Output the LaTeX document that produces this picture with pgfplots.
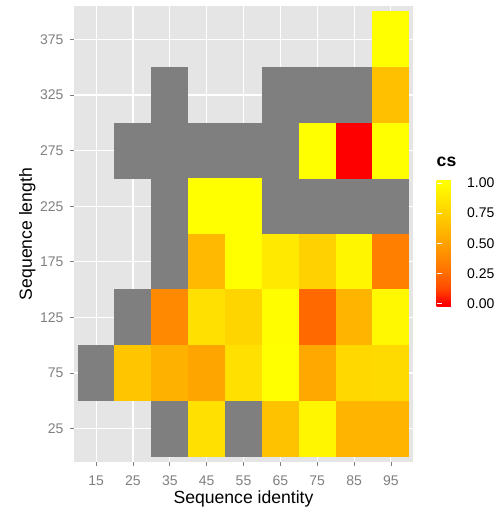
\documentclass[border=0pt]{standalone}
\usepackage{pgfplots}
\pgfplotsset{compat=1.18}
\usepackage{pgfplotstable}
\usepackage{fontspec}
\setmainfont{Liberation Sans}

\definecolor{panelgrey}{HTML}{E5E5E5}
\definecolor{nagrey}{HTML}{7F7F7F}
\definecolor{ticktext}{HTML}{7F7F7F}

% one tile: 10 units wide, 50 units high at x=3.685pt, y=1.112pt
\pgfdeclareplotmark{tile}{%
  \pgfpathrectangle{\pgfqpoint{-18.55pt}{-27.95pt}}{\pgfqpoint{37.1pt}{55.9pt}}%
  \pgfusepathqfill}

% cells with a value
\pgfplotstableread{
x  y   cs
95 375 1.00
95 325 0.66
75 275 1.00
85 275 0.00
95 275 1.00
45 225 1.00
55 225 1.00
45 175 0.62
55 175 1.00
65 175 0.88
75 175 0.75
85 175 0.95
95 175 0.34
35 125 0.38
45 125 0.83
55 125 0.77
65 125 0.99
75 125 0.24
85 125 0.60
95 125 0.96
25 75  0.69
35 75  0.58
45 75  0.52
55 75  0.83
65 75  1.00
75 75  0.54
85 75  0.79
95 75  0.80
45 25  0.83
65 25  0.67
75 25  0.95
85 25  0.60
95 25  0.60
}\cstable

% cells where cs is missing
\pgfplotstableread{
x  y
35 325
65 325
75 325
85 325
25 275
35 275
45 275
55 275
65 275
35 225
65 225
75 225
85 225
95 225
35 175
25 125
15 75
35 25
55 25
}\natable

\begin{document}
\begin{tikzpicture}
\useasboundingbox (-74pt,-48pt) rectangle (425pt,462pt);
\begin{axis}[
  at={(0pt,0pt)}, anchor=south west,
  x=3.685pt, y=1.112pt,
  xmin=9, xmax=101, ymin=-5, ymax=405,
  axis background/.style={fill=panelgrey},
  axis x line*=bottom, axis y line*=left,
  axis line style={draw=none},
  xtick={15,25,...,95}, ytick={25,75,...,375},
  xticklabels={15,25,35,45,55,65,75,85,95},
  yticklabels={25,75,125,175,225,275,325,375},
  tick align=outside, major tick length=4pt,
  tick style={color=nagrey, line width=0.8pt},
  grid=major, grid style={white, line width=1.1pt},
  ticklabel style={font=\fontsize{14}{16}\selectfont, text=ticktext},
  xticklabel style={yshift=-6.5pt},
  yticklabel style={xshift=-3pt},
  xlabel={Sequence identity}, ylabel={Sequence length},
  every axis x label/.style={at={(axis description cs:0.5,0)}, anchor=base,
    yshift=-41pt, font=\fontsize{17.6}{20}\selectfont},
  every axis y label/.style={at={(axis description cs:-0.138,0.5)}, rotate=90,
    anchor=center, font=\fontsize{17.6}{20}\selectfont},
  colormap={redyellow}{
    rgb255(0pt)=(255,0,0) rgb255(25pt)=(255,0,0)
    rgb255(150pt)=(255,73,0) rgb255(275pt)=(255,108,0)
    rgb255(400pt)=(255,136,0) rgb255(525pt)=(255,161,0)
    rgb255(650pt)=(255,186,0) rgb255(775pt)=(255,209,0)
    rgb255(900pt)=(255,232,0) rgb255(1025pt)=(255,255,0)
    rgb255(1050pt)=(255,255,0)},
  point meta min=-0.025, point meta max=1.025,
  colorbar,
  colorbar style={
    at={(354pt,155.3pt)}, anchor=south west,
    width=26pt, height=126.7pt,
    axis line style={draw=none},
    axis on top,
    ytick={0,0.25,0.5,0.75,1},
    yticklabels={0.00,0.25,0.50,0.75,1.00},
    tick align=inside, major tick length=5pt,
    tick style={color=white, line width=0.6pt},
    yticklabel style={font=\fontsize{14}{16}\selectfont, text=black, xshift=1pt},
    title={\bfseries cs},
    title style={at={(0,1)}, anchor=south west, inner sep=0pt, yshift=7pt,
      font=\fontsize{17.6}{20}\selectfont},
  },
]
\addplot[only marks, mark=tile, color=nagrey] table[x=x, y=y] {\natable};
\addplot[scatter, only marks, mark=tile, point meta=explicit]
  table[x=x, y=y, meta=cs] {\cstable};
\end{axis}
\end{tikzpicture}
\end{document}
